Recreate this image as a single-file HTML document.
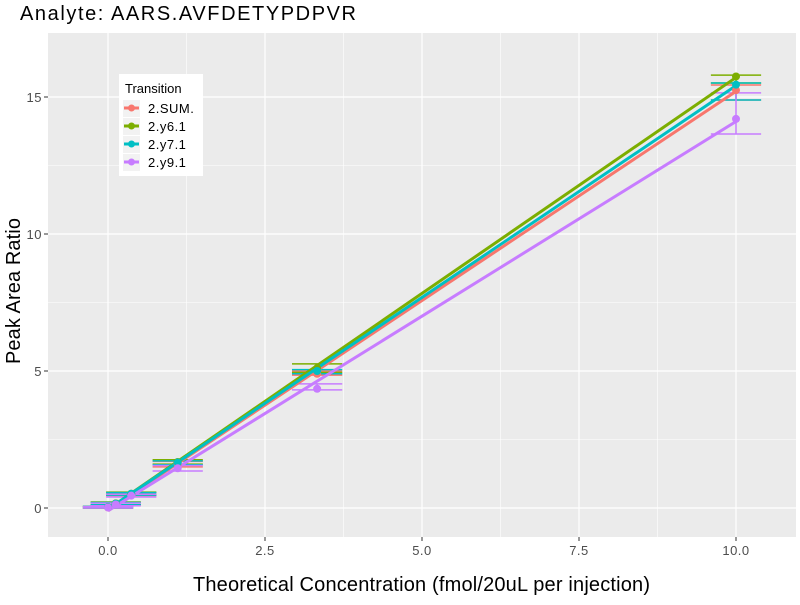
<!DOCTYPE html>
<html><head><meta charset="utf-8"><style>
body{margin:0;background:#fff;}
svg text{font-family:"Liberation Sans",sans-serif;}
</style></head><body>
<svg id="chart" width="800" height="600" xmlns="http://www.w3.org/2000/svg">
<text x="20" y="20" font-size="20" textLength="336" lengthAdjust="spacing" fill="#000">Analyte: AARS.AVFDETYPDPVR</text>
<rect x="48" y="33" width="748" height="504" fill="#ebebeb"/>
<g id="grid"></g>
<g id="marks"></g>
<g id="axes"></g>
<text x="193" y="591" font-size="20" textLength="457" lengthAdjust="spacing" fill="#000">Theoretical Concentration (fmol/20uL per injection)</text>
<text transform="translate(20,364) rotate(-90)" font-size="20" textLength="146" lengthAdjust="spacing" fill="#000">Peak Area Ratio</text>
<g>
<rect x="119" y="74" width="84" height="102" fill="#fff"/>
<text x="125" y="93" font-size="13" fill="#000">Transition</text>
<g id="legend-items"></g>
</g>
</svg>
<script>
const seriesNames=["2.SUM.","2.y6.1","2.y7.1","2.y9.1"];
const seriesColors=["#f8766d","#7cae00","#00bfc4","#c77cff"];
const concentrations=[0,0.123,0.37,1.11,3.33,10];
const ySum=[0.02,0.15,0.5,1.6,4.9,15.25];
const yY6=[0.03,0.17,0.52,1.68,5.1,15.75];
const yY7=[0.03,0.16,0.52,1.66,5.0,15.45];
const yY9=[0.02,0.13,0.45,1.45,4.35,14.2];
const loSum=[0.0,0.1,0.45,1.5,4.85,14.89];
const hiSum=[0.06,0.2,0.55,1.7,5.0,15.44];
const loY6=[0.0,0.12,0.48,1.6,4.95,15.51];
const hiY6=[0.06,0.22,0.58,1.76,5.26,15.8];
const loY7=[0.0,0.12,0.47,1.58,4.9,14.89];
const hiY7=[0.06,0.2,0.56,1.72,5.05,15.51];
const loY9=[0.0,0.08,0.4,1.35,4.31,13.65];
const hiY9=[0.05,0.18,0.5,1.55,4.53,15.15];
const xTicks=[0,2.5,5,7.5,10];
const xTickLabels=["0.0","2.5","5.0","7.5","10.0"];
const yTicks=[0,5,10,15];
const yTickLabels=["0","5","10","15"];
const ys=[ySum,yY6,yY7,yY9],los=[loSum,loY6,loY7,loY9],his=[hiSum,hiY6,hiY7,hiY9];
const X=v=>108+v*62.8, Y=v=>508-v*27.4;
const NS="http://www.w3.org/2000/svg";
function mk(tag,attrs,parent){const e=document.createElementNS(NS,tag);for(const k in attrs)e.setAttribute(k,attrs[k]);parent.appendChild(e);return e;}
const grid=document.getElementById('grid'),marks=document.getElementById('marks'),axes=document.getElementById('axes');
for(let i=0;i<xTicks.length-1;i++){const m=(xTicks[i]+xTicks[i+1])/2;const l=mk('line',{x1:X(m),x2:X(m),y1:33,y2:537,stroke:'#fff','stroke-width':0.6},grid);}
for(let i=0;i<yTicks.length-1;i++){const m=(yTicks[i]+yTicks[i+1])/2;const l=mk('line',{x1:48,x2:796,y1:Y(m),y2:Y(m),stroke:'#fff','stroke-width':0.6},grid);}
xTicks.forEach((t,i)=>{const l=mk('line',{x1:X(t),x2:X(t),y1:33,y2:537,stroke:'#fff','stroke-width':1.2},grid);
mk('line',{x1:X(t),x2:X(t),y1:537,y2:541,stroke:'#333'},axes);
const tx=mk('text',{x:X(t),y:555,'font-size':13,'letter-spacing':0.5,'text-anchor':'middle',fill:'#4d4d4d'},axes);tx.textContent=xTickLabels[i];});
yTicks.forEach((t,i)=>{const l=mk('line',{x1:48,x2:796,y1:Y(t),y2:Y(t),stroke:'#fff','stroke-width':1.2},grid);
mk('line',{x1:44,x2:48,y1:Y(t),y2:Y(t),stroke:'#333'},axes);
const tx=mk('text',{x:42,y:Y(t)+5,'font-size':13,'letter-spacing':0.5,'text-anchor':'end',fill:'#4d4d4d'},axes);tx.textContent=yTickLabels[i];});
const hw=0.4;
ys.forEach((yv,s)=>{const c=seriesColors[s];
concentrations.forEach((cx,i)=>{
const g=mk('g',{stroke:c,'stroke-width':1.5},marks);
mk('line',{x1:X(cx-hw),x2:X(cx+hw),y1:Y(los[s][i]),y2:Y(los[s][i])},g);
mk('line',{x1:X(cx-hw),x2:X(cx+hw),y1:Y(his[s][i]),y2:Y(his[s][i])},g);
mk('line',{x1:X(cx),x2:X(cx),y1:Y(los[s][i]),y2:Y(his[s][i])},g);});});
ys.forEach((yv,s)=>{const n=concentrations.length;let mx=0,my=0;concentrations.forEach((x,i)=>{mx+=x;my+=yv[i];});mx/=n;my/=n;let sxy=0,sxx=0;concentrations.forEach((x,i)=>{sxy+=(x-mx)*(yv[i]-my);sxx+=(x-mx)*(x-mx);});const b=sxy/sxx,a=my-b*mx;
const l=mk('line',{x1:X(0),y1:Y(a),x2:X(10),y2:Y(a+b*10),stroke:seriesColors[s],'stroke-width':3},marks);});
ys.forEach((yv,s)=>{concentrations.forEach((cx,i)=>{const p=mk('circle',{cx:X(cx),cy:Y(yv[i]),r:4,fill:seriesColors[s]},marks);});});
const li=document.getElementById('legend-items');
seriesNames.forEach((nm,s)=>{const y=108+s*18;const g=mk('g',{},li);
mk('rect',{x:123,y:y-8,width:17,height:17,fill:'#f2f2f2'},g);
mk('line',{x1:124,x2:139,y1:y,y2:y,stroke:seriesColors[s],'stroke-width':3},g);
mk('circle',{cx:131.5,cy:y,r:3.5,fill:seriesColors[s]},g);
const t=mk('text',{x:148,y:y+5,'font-size':13,'letter-spacing':0.5,fill:'#000'},g);t.textContent=nm;});
</script>
</body></html>
